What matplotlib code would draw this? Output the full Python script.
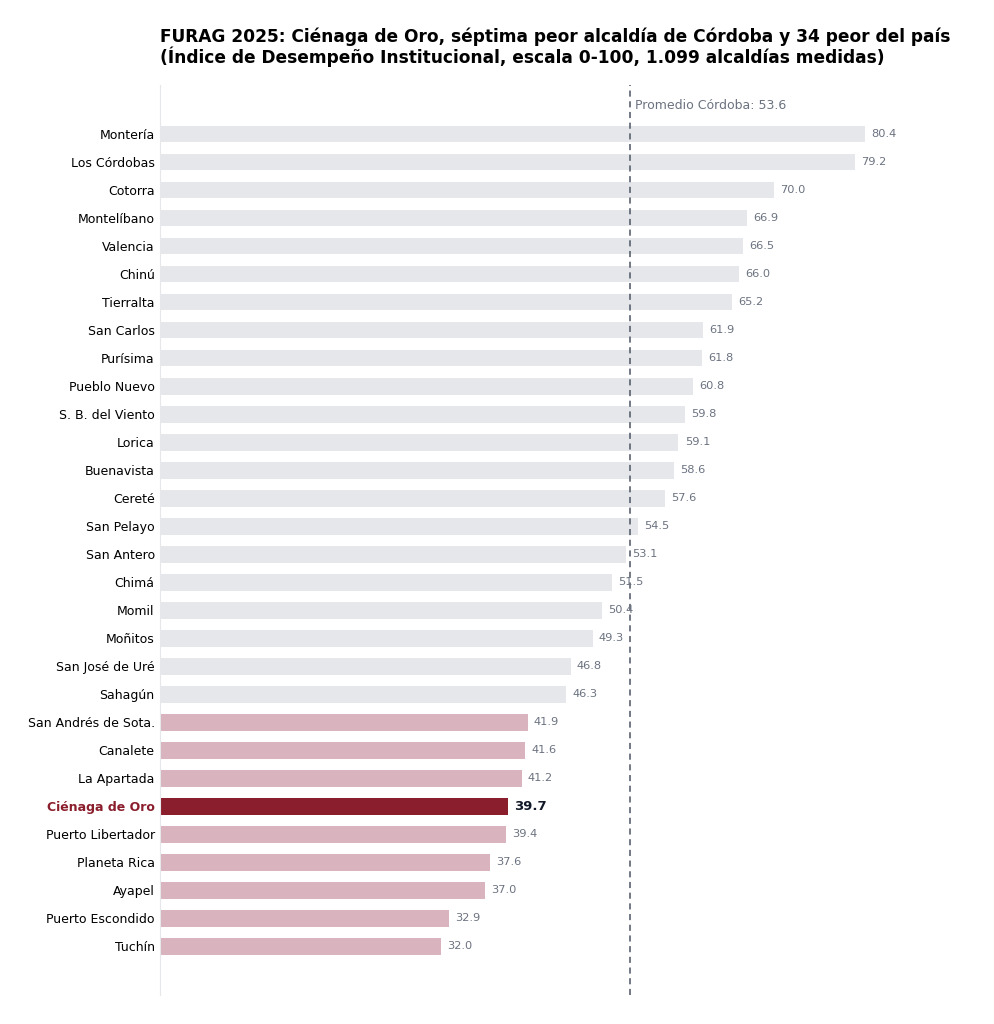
import matplotlib.pyplot as plt

municipios = ["Montería", "Los Córdobas", "Cotorra", "Montelíbano", "Valencia", "Chinú",
              "Tierralta", "San Carlos", "Purísima", "Pueblo Nuevo", "S. B. del Viento",
              "Lorica", "Buenavista", "Cereté", "San Pelayo", "San Antero", "Chimá",
              "Momil", "Moñitos", "San José de Uré", "Sahagún", "San Andrés de Sota.",
              "Canalete", "La Apartada", "Ciénaga de Oro", "Puerto Libertador",
              "Planeta Rica", "Ayapel", "Puerto Escondido", "Tuchín"]
puntajes = [80.4, 79.2, 70.0, 66.9, 66.5, 66.0, 65.2, 61.9, 61.8, 60.8, 59.8, 59.1,
            58.6, 57.6, 54.5, 53.1, 51.5, 50.4, 49.3, 46.8, 46.3, 41.9, 41.6, 41.2,
            39.7, 39.4, 37.6, 37.0, 32.9, 32.0]
promedio = 53.6
destacado = "Ciénaga de Oro"
n_peores = 9  # las ultimas 9 en rosado

GRIS = "#e5e7eb"
ROSA = "#d9b3bd"
ROJO = "#8b1e2d"
TXT = "#6b7280"

fig = plt.figure(figsize=(9.95, 10.24), dpi=100)
ax = fig.add_axes([0.161, 0.028, 0.81, 0.889])

n = len(municipios)
ys = list(range(n))
colores = []
for i, m in enumerate(municipios):
    if m == destacado:
        colores.append(ROJO)
    elif i >= n - n_peores:
        colores.append(ROSA)
    else:
        colores.append(GRIS)

ax.barh(ys, puntajes, height=0.6, color=colores)
ax.set_ylim(n - 1 + 1.75, -1.75)
ax.set_xlim(0, 91.9)

for y, v, m in zip(ys, puntajes, municipios):
    if m == destacado:
        ax.text(v + 0.7, y, f"{v:.1f}", va="center", ha="left", fontsize=9.5,
                fontweight="bold", color="#111827")
    else:
        ax.text(v + 0.7, y, f"{v:.1f}", va="center", ha="left", fontsize=8.2, color=TXT)

ax.axvline(promedio, color="#4b5563", linestyle=(0, (4, 3)), linewidth=1.1)
ax.text(promedio + 0.5, -1.0, f"Promedio Córdoba: {promedio}", va="center", ha="left",
        fontsize=9, color=TXT)

ax.set_yticks(ys)
ax.set_yticklabels(municipios, fontsize=9)
for lab in ax.get_yticklabels():
    if lab.get_text() == destacado:
        lab.set_color(ROJO)
        lab.set_fontweight("bold")
ax.tick_params(axis="y", length=0, pad=4)
ax.set_xticks([])

for s in ["top", "right", "bottom"]:
    ax.spines[s].set_visible(False)
ax.spines["left"].set_color("#e5e7eb")

fig.text(0.161, 0.954, "FURAG 2025: Ciénaga de Oro, séptima peor alcaldía de Córdoba y 34 peor del país\n"
         "(Índice de Desempeño Institucional, escala 0-100, 1.099 alcaldías medidas)",
         ha="left", va="center", fontsize=12.25, fontweight="bold", linespacing=1.05)

fig.savefig("out.png", dpi=100)
